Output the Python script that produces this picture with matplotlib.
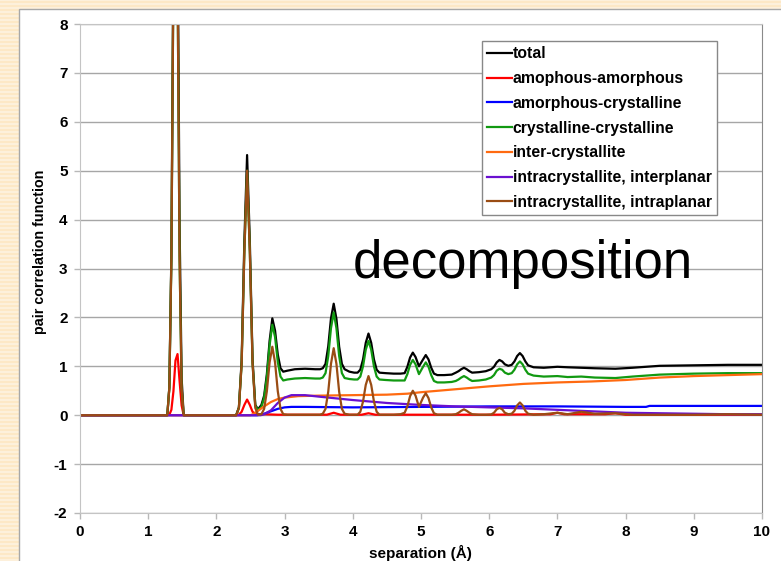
import matplotlib
matplotlib.use('Agg')
import matplotlib.pyplot as plt
from matplotlib.patches import Rectangle
from matplotlib.lines import Line2D

# separation grid shared by the peaky series (total, crystalline-crystalline, intraplanar)
r_grid = [0.00, 1.28, 1.31, 1.34, 1.37, 1.40, 1.43, 1.46, 1.49, 1.52,
          2.29, 2.33, 2.37, 2.41, 2.45, 2.49, 2.53, 2.57,
          2.61, 2.66, 2.70, 2.74, 2.78, 2.82, 2.86, 2.90, 2.94, 2.98, 3.04,
          3.15, 3.30, 3.45, 3.52, 3.56, 3.60, 3.64, 3.68, 3.72, 3.76, 3.80, 3.84, 3.88, 3.95,
          4.02, 4.07, 4.11, 4.15, 4.19, 4.23, 4.27, 4.31, 4.35, 4.39, 4.48, 4.60, 4.70,
          4.76, 4.80, 4.84, 4.88, 4.92, 4.97, 5.03, 5.07, 5.11, 5.15, 5.19, 5.24, 5.34, 5.45,
          5.51, 5.55, 5.59, 5.63, 5.67, 5.71, 5.75, 5.85, 5.95, 6.03, 6.07, 6.11, 6.15, 6.19,
          6.23, 6.28, 6.33, 6.37, 6.41, 6.45, 6.49, 6.53, 6.57, 6.65,
          6.80, 7.00, 7.15, 7.35, 7.55, 7.85, 8.10, 8.50, 9.00, 9.50, 10.0]

total = [0, 0, 0.57, 3.31, 9.49, 13.9, 10.25, 3.9, 0.76, 0,
         0, 0.16, 1.12, 3.56, 5.32, 3.56, 1.14, 0.21,
         0.12, 0.21, 0.40, 0.84, 1.52, 1.98, 1.73, 1.24, 0.96, 0.89, 0.91,
         0.94, 0.95, 0.94, 0.94, 0.96, 1.05, 1.41, 1.98, 2.28, 1.97, 1.40, 1.05, 0.94, 0.89,
         0.87, 0.87, 0.93, 1.14, 1.48, 1.67, 1.48, 1.14, 0.93, 0.87, 0.86, 0.85, 0.85,
         0.86, 0.99, 1.18, 1.28, 1.19, 1.00, 1.14, 1.23, 1.14, 0.97, 0.85, 0.82, 0.82, 0.83,
         0.87, 0.90, 0.94, 0.97, 0.94, 0.90, 0.87, 0.88, 0.90, 0.94, 0.99, 1.08, 1.13, 1.10,
         1.04, 1.01, 1.03, 1.10, 1.21, 1.27, 1.21, 1.10, 1.02, 0.98,
         0.97, 0.99, 0.98, 0.97, 0.96, 0.95, 0.97, 1.01, 1.02, 1.03, 1.03]

cryst_cryst = [0, 0, 0.56, 3.2, 9.0, 12.8, 9.0, 3.2, 0.56, 0,
               0, 0.15, 1.05, 3.35, 5.0, 3.35, 1.07, 0.20,
               0.10, 0.17, 0.35, 0.77, 1.43, 1.85, 1.60, 1.09, 0.79, 0.71, 0.73,
               0.75, 0.76, 0.75, 0.75, 0.77, 0.86, 1.21, 1.78, 2.10, 1.78, 1.21, 0.86, 0.76, 0.74,
               0.73, 0.73, 0.79, 1.00, 1.34, 1.52, 1.34, 1.00, 0.79, 0.73, 0.72, 0.71, 0.71,
               0.71, 0.84, 1.03, 1.13, 1.04, 0.84, 0.99, 1.08, 0.99, 0.82, 0.70, 0.67, 0.67, 0.68,
               0.70, 0.73, 0.77, 0.80, 0.77, 0.73, 0.70, 0.71, 0.73, 0.77, 0.82, 0.91, 0.95, 0.93,
               0.87, 0.84, 0.86, 0.93, 1.04, 1.10, 1.04, 0.93, 0.85, 0.81,
               0.79, 0.80, 0.78, 0.79, 0.77, 0.76, 0.79, 0.83, 0.85, 0.86, 0.86]

intraplanar = [0, 0, 0.56, 3.2, 9.0, 12.8, 9.0, 3.2, 0.56, 0,
               0, 0.15, 1.05, 3.35, 5.0, 3.35, 1.05, 0.15,
               0.01, 0.02, 0.13, 0.49, 1.08, 1.40, 1.08, 0.49, 0.13, 0.02, 0.01,
               0.01, 0.01, 0.01, 0.01, 0.03, 0.13, 0.48, 1.05, 1.37, 1.05, 0.48, 0.13, 0.03, 0.01,
               0.01, 0.01, 0.07, 0.28, 0.62, 0.80, 0.62, 0.28, 0.07, 0.01, 0.01, 0.01, 0.02,
               0.05, 0.18, 0.39, 0.50, 0.40, 0.17, 0.36, 0.45, 0.35, 0.16, 0.04, 0.01, 0.01, 0.01,
               0.02, 0.05, 0.09, 0.12, 0.09, 0.05, 0.02, 0.01, 0.01, 0.015, 0.05, 0.12, 0.15, 0.12,
               0.05, 0.02, 0.03, 0.09, 0.20, 0.26, 0.20, 0.09, 0.03, 0.01,
               0.02, 0.05, 0.02, 0.07, 0.03, 0.04, 0.01, 0.01, 0.01, 0.02, 0.01]

amor_amor_r = [0, 1.28, 1.31, 1.34, 1.37, 1.40, 1.43, 1.46, 1.49, 1.52,
               2.29, 2.33, 2.37, 2.41, 2.45, 2.49, 2.53, 2.57,
               2.62, 2.70, 2.90, 3.30, 3.62, 3.72, 3.82, 4.13, 4.23, 4.33, 5.00, 6.00,
               6.90, 7.00, 7.10, 7.70, 7.85, 8.00, 9.00, 10.0]
amor_amor = [0, 0, 0.01, 0.11, 0.49, 1.12, 1.25, 0.70, 0.20, 0,
             0, 0.01, 0.07, 0.21, 0.32, 0.21, 0.07, 0.03,
             0.02, 0.02, 0.01, 0.01, 0.01, 0.05, 0.01, 0.01, 0.04, 0.01, 0.01, 0.01,
             0.02, 0.05, 0.02, 0.02, 0.04, 0.01, 0.01, 0.01]

amor_cryst_r = [0, 2.60, 2.70, 2.80, 2.90, 3.00, 3.10, 3.30, 4.00, 5.00, 6.00, 7.00, 8.00, 8.30, 8.35, 10.0]
amor_cryst = [0, 0, 0.03, 0.08, 0.13, 0.16, 0.17, 0.17, 0.16, 0.17, 0.18, 0.18, 0.17, 0.17, 0.19, 0.19]

inter_r = [0, 2.50, 2.55, 2.60, 2.70, 2.80, 2.90, 3.00, 3.20, 3.50, 4.00, 4.50, 4.80, 5.00,
           5.50, 6.00, 6.50, 7.00, 7.50, 8.00, 8.50, 9.00, 9.50, 10.0]
inter_cryst = [0, 0, 0.03, 0.08, 0.18, 0.27, 0.33, 0.36, 0.39, 0.40, 0.41, 0.42, 0.44, 0.47,
               0.53, 0.59, 0.64, 0.67, 0.69, 0.72, 0.77, 0.80, 0.82, 0.84]

interplanar_r = [0, 2.65, 2.70, 2.80, 2.90, 3.00, 3.10, 3.30, 3.50, 4.00, 4.50, 5.00, 5.50,
                 6.00, 6.50, 7.00, 7.50, 8.00, 8.50, 9.00, 9.50, 10.0]
interplanar = [0, 0, 0.02, 0.10, 0.25, 0.36, 0.41, 0.41, 0.38, 0.31, 0.25, 0.21, 0.18,
               0.16, 0.14, 0.11, 0.08, 0.05, 0.04, 0.03, 0.02, 0.02]

labels = ['total', 'amophous-amorphous', 'amorphous-crystalline', 'crystalline-crystalline',
          'inter-crystallite', 'intracrystallite, interplanar', 'intracrystallite, intraplanar']
colors = ['#000000', '#ff0000', '#0000ff', '#119911', '#ff6a10', '#6a10d0', '#9a4c14']

plt.rcParams['font.family'] = ['Liberation Sans', 'DejaVu Sans']
plt.rcParams['axes.unicode_minus'] = False

fig = plt.figure(figsize=(7.81, 5.61), dpi=100)
fig.patch.set_facecolor('#fde8c6')

# faint horizontal stripes of the slide background
for py in range(0, 561, 4):
    fig.add_artist(Line2D([0, 1], [1 - py / 561] * 2, transform=fig.transFigure,
                          color='#fef1dc', linewidth=1.4, zorder=-10))

# white slide panel behind the chart
panel = Rectangle((19 / 781, -0.1), 1.2, (552 + 56) / 561, transform=fig.transFigure,
                  facecolor='white', edgecolor='#a8a8a8', linewidth=1.0, zorder=-5)
fig.add_artist(panel)

ax = fig.add_axes([80 / 781, 48 / 561, 682 / 781, 489 / 561])
ax.set_zorder(2)
ax.set_facecolor('white')

series = [(r_grid, total), (amor_amor_r, amor_amor), (amor_cryst_r, amor_cryst),
          (r_grid, cryst_cryst), (inter_r, inter_cryst), (interplanar_r, interplanar),
          (r_grid, intraplanar)]
for (xs, ys), label, color in zip(series, labels, colors):
    ax.plot(xs, ys, color=color, linewidth=1.6, label=label)

ax.set_xlim(0, 10)
ax.set_ylim(-2, 8)
ax.set_xticks(range(0, 11))
ax.set_yticks(range(-2, 9))
ax.grid(axis='y', color='#a6a6a6', linewidth=1.0)
ax.set_axisbelow(True)

for side in ['left', 'bottom', 'top']:
    ax.spines[side].set_color('#c4c4c4')
ax.spines['right'].set_color('#8a8a8a')
ax.tick_params(length=4, width=1, color='#b8b8b8', labelsize=11, pad=5)
for lab in ax.get_xticklabels() + ax.get_yticklabels():
    lab.set_fontweight('bold')

fig.text(420 / 781, (561 - 553) / 561, 'separation (Å)', ha='center', va='center',
         fontsize=11, fontweight='bold', zorder=3)
fig.text(40 / 781, (561 - 252) / 561, 'pair correlation function', ha='center', va='center',
         rotation=90, fontsize=10.3, fontweight='bold', zorder=3)
fig.text(353 / 781, (561 - 278) / 561, 'decomposition', ha='left', va='baseline', fontsize=38,
         zorder=3)

leg = ax.legend(loc='upper left', bbox_to_anchor=((482 - 80) / 682, (513 - 41) / 489),
                fancybox=False, framealpha=1, edgecolor='#888888',
                prop={'weight': 'bold', 'size': 11.3}, handlelength=1.55, handletextpad=0.05,
                labelspacing=0.62, borderpad=0.35, borderaxespad=0)
leg.get_frame().set_linewidth(1.0)

fig.savefig('out.png', dpi=100, facecolor=fig.get_facecolor())
